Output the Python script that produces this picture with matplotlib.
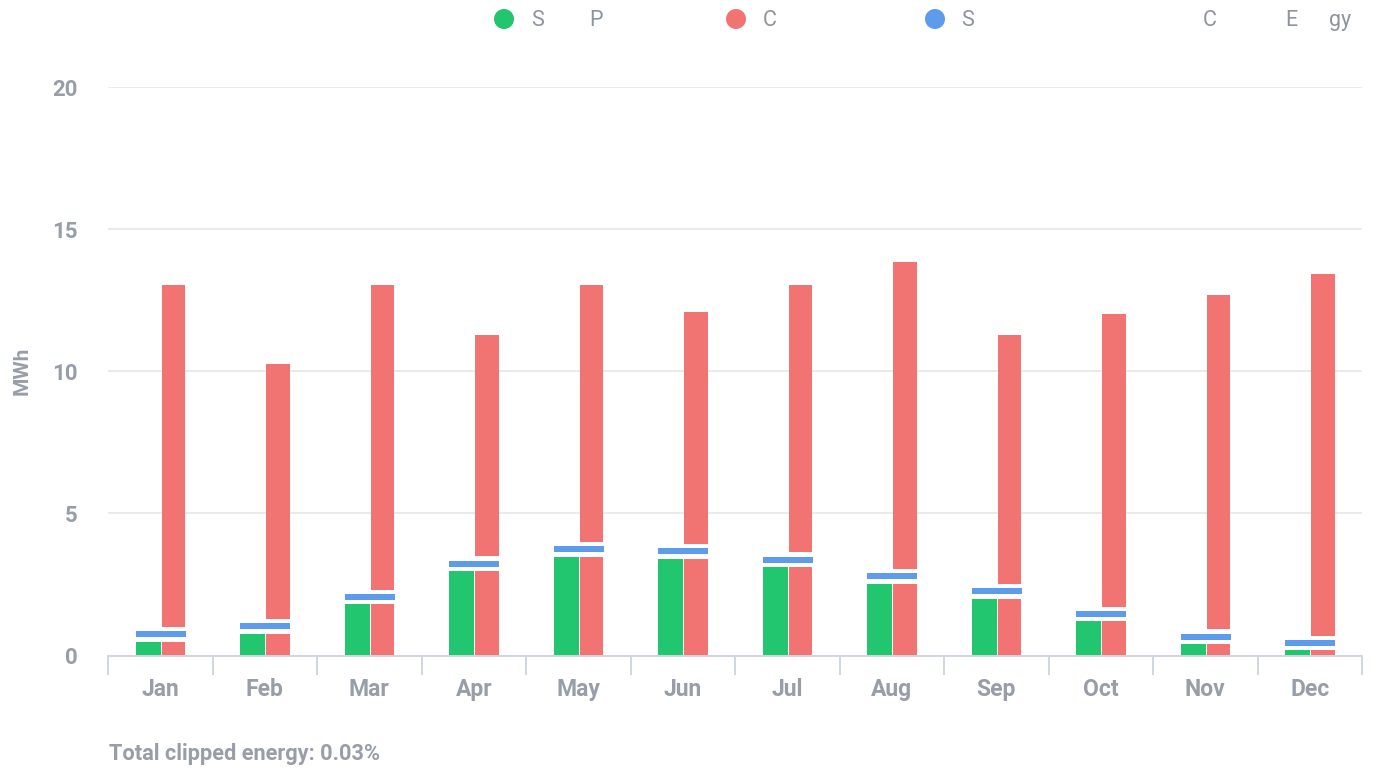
import matplotlib
matplotlib.use("Agg")
import matplotlib.pyplot as plt
from matplotlib.patches import Circle
import numpy as np

plt.rcParams['font.family'] = ['Roboto', 'DejaVu Sans']

# ---- data ----
months = ["Jan", "Feb", "Mar", "Apr", "May", "Jun",
          "Jul", "Aug", "Sep", "Oct", "Nov", "Dec"]
solar_production = [0.48, 0.77, 1.80, 2.97, 3.48, 3.41, 3.11, 2.53, 2.00, 1.20, 0.40, 0.18]
consumption = [13.05, 10.26, 13.05, 11.28, 13.05, 12.09, 13.05, 13.85, 11.28, 12.02, 12.68, 13.41]
storage_band = [0.21, 0.21, 0.21, 0.21, 0.21, 0.21, 0.21, 0.21, 0.21, 0.21, 0.21, 0.21]
y_ticks = [0, 5, 10, 15, 20]
y_label = "MWh"
footer_text = "Total clipped energy: 0.03%"
# legend entries as visible in the reference (pieces of text per entry)
legend_pieces = [
    [("S", 531), ("P", 589)],
    [("C", 763)],
    [("S", 961)],
    [("C", 1203), ("E", 1285), ("gy", 1329)],
]
legend_markers = [(504, "#22c66e"), (736, "#f27472"), (935, "#5d9ced")]

# ---- style ----
GREEN = "#22c66e"
RED = "#f27472"
BLUE = "#5d9ced"
TEXT = "#989ea8"
GRID = "#e6e8ec"
AXIS = "#cfd6e0"
GAP = 0.155

W, H = 1374, 768
fig = plt.figure(figsize=(W / 100, H / 100), dpi=100)
fig.patch.set_facecolor("white")

ax = fig.add_axes([108 / W, (H - 655.5) / H, (1362 - 108) / W, (655.5 - 87) / H])
x = np.arange(len(months))
P = np.array(solar_production)
C = np.array(consumption)
S = np.array(storage_band)

ax.bar(x - 0.115, P, width=0.235, color=GREEN, linewidth=0, zorder=3)
ax.bar(x + 0.125, P, width=0.225, color=RED, linewidth=0, zorder=3)
ax.bar(x + 0.005, S, bottom=P + GAP, width=0.48, color=BLUE, linewidth=0, zorder=3)
upper_bottom = P + 2 * GAP + S
ax.bar(x + 0.125, C - upper_bottom, bottom=upper_bottom, width=0.225,
       color=RED, linewidth=0, zorder=3)

ax.set_xlim(-0.5, len(months) - 0.5)
ax.set_ylim(0, 20)
ax.set_yticks(y_ticks)
ax.yaxis.grid(True, color=GRID, linewidth=1.3)
ax.set_axisbelow(True)
for s in ["top", "right", "left"]:
    ax.spines[s].set_visible(False)
ax.spines["bottom"].set_color(AXIS)
ax.spines["bottom"].set_linewidth(1.4)
ax.spines["bottom"].set_zorder(4)

ax.tick_params(axis="y", length=0, pad=22, labelsize=16, labelcolor=TEXT)
ax.set_xticks(x)
ax.set_xticklabels(months)
ax.tick_params(axis="x", which="major", length=0, pad=16, labelsize=16.5, labelcolor=TEXT)
ax.set_xticks(np.arange(-0.5, len(months), 1.0), minor=True)
ax.tick_params(axis="x", which="minor", length=14, width=1.4, color=AXIS)
for lab in ax.get_xticklabels() + ax.get_yticklabels():
    lab.set_fontweight("bold")

# overlay in pixel coordinates for legend / footer / axis title
ov = fig.add_axes([0, 0, 1, 1], zorder=5)
ov.set_xlim(0, W)
ov.set_ylim(H, 0)
ov.axis("off")
ov.patch.set_alpha(0)

for cx, col in legend_markers:
    ov.add_patch(Circle((cx, 19), 10, color=col, linewidth=0))
for pieces in legend_pieces:
    for txt, px in pieces:
        ov.text(px, 20.5, txt, ha="left", va="center", fontsize=15.5, color="#8f949c")

ov.text(22, 371, y_label, rotation=90, ha="center", va="center",
        fontsize=15, color=TEXT, fontweight="bold")
ov.text(109, 754, footer_text, ha="left", va="center",
        fontsize=15.7, color=TEXT, fontweight="bold")

fig.savefig("out.png", dpi=100, facecolor="white")
